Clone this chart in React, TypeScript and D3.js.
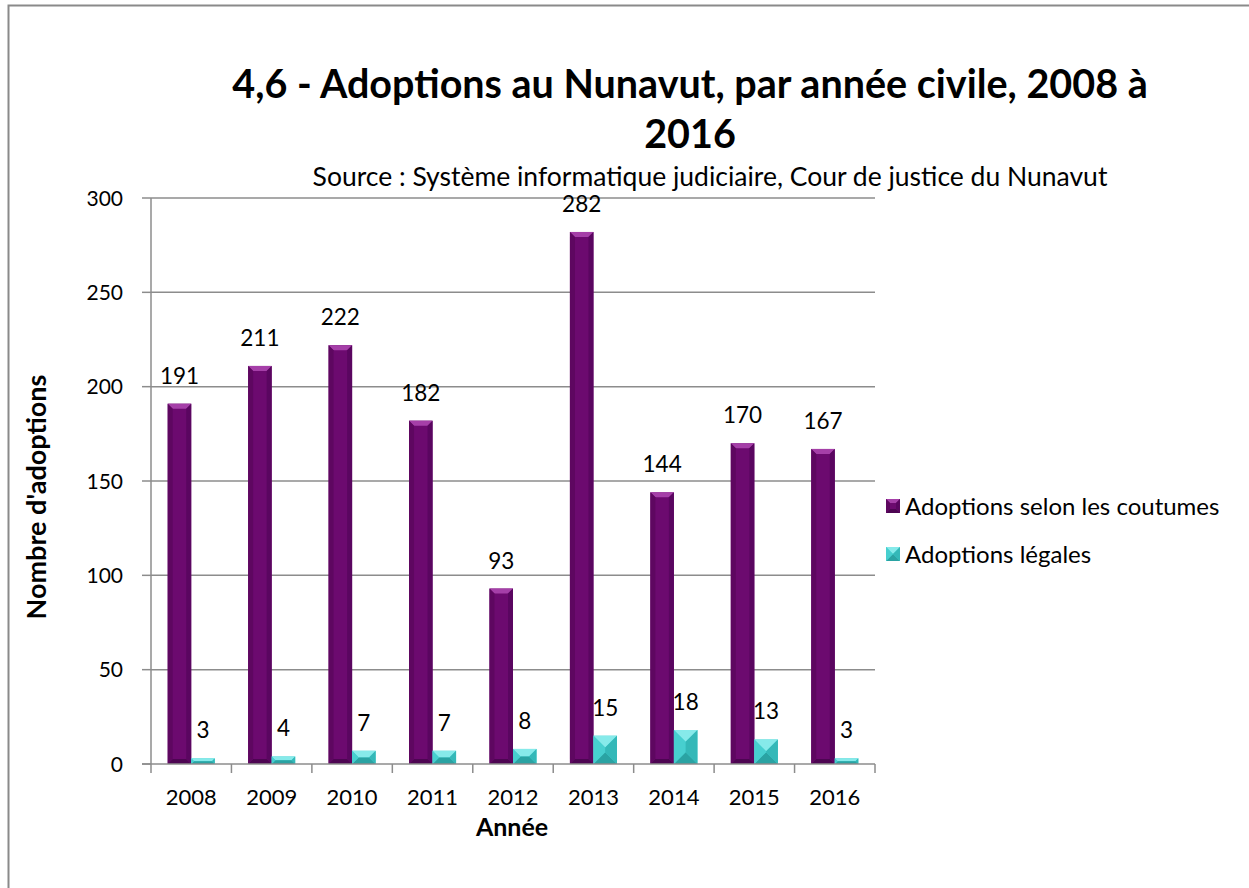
import React from "react";
import * as d3 from "d3";

const years = ["2008", "2009", "2010", "2011", "2012", "2013", "2014", "2015", "2016"];
const coutumes = [191, 211, 222, 182, 93, 282, 144, 170, 167];
const legales = [3, 4, 7, 7, 8, 15, 18, 13, 3];
const yTicks = [0, 50, 100, 150, 200, 250, 300];
const seriesNames = ["Adoptions selon les coutumes", "Adoptions légales"];

const W = 1249;
const H = 888;
const FONT = "Lato, 'Open Sans', sans-serif";

type Pal = { top: string; left: string; right: string; bottom: string; face: string };
const purple: Pal = { top: "#a53fa8", left: "#5e0760", right: "#5a0660", bottom: "#4d0552", face: "#6c0a6f" };
const cyan: Pal = { top: "#86eaea", left: "#47cfcf", right: "#34b8b8", bottom: "#2aa3a3", face: "#40d0d0" };

function BevelBar({ x, y, w, h, b, pal }: { x: number; y: number; w: number; h: number; b: number; pal: Pal }) {
  const bb = Math.max(0, Math.min(b, w / 2, h / 2));
  const pts = (arr: number[][]) => arr.map((p) => p.join(",")).join(" ");
  return (
    <g>
      <rect x={x} y={y} width={w} height={h} fill={pal.face} />
      <polygon points={pts([[x, y], [x + w, y], [x + w - bb, y + bb], [x + bb, y + bb]])} fill={pal.top} />
      <polygon points={pts([[x, y + h], [x + w, y + h], [x + w - bb, y + h - bb], [x + bb, y + h - bb]])} fill={pal.bottom} />
      <polygon points={pts([[x, y], [x + bb, y + bb], [x + bb, y + h - bb], [x, y + h]])} fill={pal.left} />
      <polygon points={pts([[x + w, y], [x + w - bb, y + bb], [x + w - bb, y + h - bb], [x + w, y + h]])} fill={pal.right} />
    </g>
  );
}

export default function App() {
  const x0 = 151;
  const x1 = 875;
  const yTop = 198;
  const yBot = 764;

  const x = d3.scaleBand<string>().domain(years).range([x0, x1]).paddingInner(0.415).paddingOuter(0.2075);
  const xs = d3.scaleBand<string>().domain(["c", "l"]).range([0, x.bandwidth()]).padding(0);
  const y = d3.scaleLinear().domain([0, 300]).range([yBot, yTop]);
  const step = x.step();

  return (
    <svg width={W} height={H} style={{ position: "absolute", left: 0, top: 0 }} fontFamily={FONT}>
      <rect x={0} y={0} width={W} height={H} fill="#fff" />
      <rect x={8.5} y={5.5} width={1300} height={1000} fill="none" stroke="#8a8a8a" strokeWidth={2} />

      {/* Title */}
      <text x={690} y={98} textAnchor="middle" fontSize={39.5} fontWeight="bold" fill="#000">
        4,6 - Adoptions au Nunavut, par année civile, 2008 à
      </text>
      <text x={690} y={148} textAnchor="middle" fontSize={39.5} fontWeight="bold" fill="#000">
        2016
      </text>
      <text x={710} y={186} textAnchor="middle" fontSize={26.5} fill="#000">
        Source : Système informatique judiciaire, Cour de justice du Nunavut
      </text>

      {/* Gridlines */}
      {yTicks.map((t) => (
        <g key={t}>
          {t > 0 && <line x1={x0} x2={x1} y1={y(t)} y2={y(t)} stroke="#8c8c8c" strokeWidth={1.5} />}
          <line x1={x0 - 9} x2={x0} y1={y(t)} y2={y(t)} stroke="#8c8c8c" strokeWidth={1.5} />
          <text x={123} y={y(t)} dy="0.36em" textAnchor="end" fontSize={21} fill="#000">
            {t}
          </text>
        </g>
      ))}

      {/* Bars */}
      {years.map((yr, i) => {
        const gx = x(yr)!;
        const w = xs.bandwidth();
        const hc = yBot - y(coutumes[i]);
        const hl = yBot - y(legales[i]);
        return (
          <g key={yr}>
            <BevelBar x={gx + xs("c")!} y={y(coutumes[i])} w={w} h={hc} b={5} pal={purple} />
            <BevelBar x={gx + xs("l")!} y={y(legales[i])} w={w} h={hl} b={w / 2} pal={cyan} />
            <text x={gx + xs("c")! + w / 2} y={y(coutumes[i]) - 20} textAnchor="middle" fontSize={22.5} fill="#000">
              {coutumes[i]}
            </text>
            <text x={gx + xs("l")! + w / 2} y={y(legales[i]) - 20} textAnchor="middle" fontSize={22.5} fill="#000">
              {legales[i]}
            </text>
          </g>
        );
      })}

      {/* Axes */}
      <line x1={x0} x2={x0} y1={yTop} y2={yBot} stroke="#8c8c8c" strokeWidth={1.5} />
      <line x1={x0 - 9} x2={x1} y1={yBot} y2={yBot} stroke="#8c8c8c" strokeWidth={1.5} />
      {d3.range(years.length + 1).map((k) => (
        <line key={k} x1={x0 + k * step} x2={x0 + k * step} y1={yBot} y2={yBot + 9} stroke="#8c8c8c" strokeWidth={1.5} />
      ))}
      {years.map((yr) => (
        <text key={yr} x={x(yr)! - (step - x.bandwidth()) / 2 + step / 2} y={805} textAnchor="middle" fontSize={22} fill="#000">
          {yr}
        </text>
      ))}

      <text x={512} y={836} textAnchor="middle" fontSize={25} fontWeight="bold" fill="#000">
        Année
      </text>
      <text transform={`translate(46,497) rotate(-90)`} textAnchor="middle" fontSize={27} fontWeight="bold" fill="#000">
        Nombre d'adoptions
      </text>

      {/* Legend */}
      {seriesNames.map((s, i) => {
        const ly = 506 + i * 48;
        return (
          <g key={s}>
            <BevelBar x={886} y={ly - 7} w={14} h={14} b={i === 0 ? 4 : 7} pal={i === 0 ? purple : cyan} />
            <text x={905} y={ly} dy="0.36em" fontSize={24} fill="#000">
              {s}
            </text>
          </g>
        );
      })}
    </svg>
  );
}
